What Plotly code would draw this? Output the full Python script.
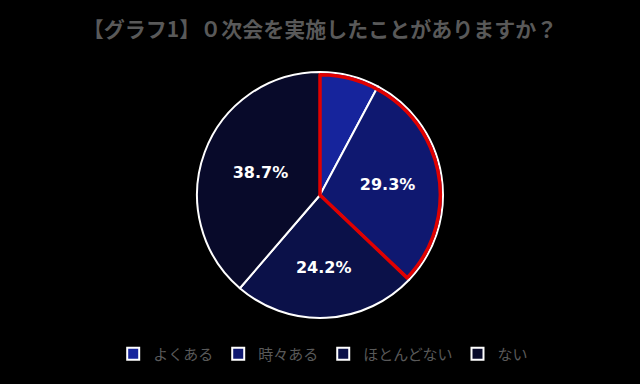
import plotly.graph_objects as go

categories = ["よくある", "時々ある", "ほとんどない", "ない"]
values = [7.8, 29.3, 24.2, 38.7]
labels_text = ["", "29.3%", "24.2%", "38.7%"]
colors = ["#16249c", "#0f1870", "#0b1149", "#080a2a"]

highlight_values = [values[0] + values[1], values[2] + values[3]]

fig = go.Figure()
fig.add_trace(go.Pie(
    labels=categories, values=values, sort=False, direction="clockwise", rotation=0,
    text=labels_text, textinfo="text", textposition="inside",
    insidetextfont=dict(color="white", size=16, family="DejaVu Sans", weight="bold"),
    marker=dict(colors=colors, line=dict(color="white", width=2)),
    domain=dict(x=[0, 1], y=[0.172, 0.8125]),
    hoverinfo="skip", insidetextorientation="horizontal",
))
fig.add_trace(go.Pie(
    labels=["a", "b"], values=highlight_values, sort=False, direction="clockwise", rotation=0,
    textinfo="none", showlegend=False, hoverinfo="skip",
    marker=dict(colors=["rgba(0,0,0,0)", "rgba(0,0,0,0)"],
                line=dict(color=["#e00000", "rgba(0,0,0,0)"], width=3.5)),
    domain=dict(x=[0.0055, 0.9945], y=[0.179, 0.8055]),
))
fig.update_layout(
    width=640, height=384, paper_bgcolor="black", plot_bgcolor="black",
    margin=dict(l=0, r=0, t=0, b=0),
    title=dict(text="<b>【グラフ1】０次会を実施したことがありますか？</b>", x=0.5, y=0.922, xanchor="center", yanchor="middle",
               font=dict(size=21, color="#595959", family="Noto Sans CJK JP")),
    legend=dict(orientation="h", x=0.505, xanchor="center", y=0.078, yanchor="middle",
                font=dict(size=15, color="#595959", family="Noto Sans CJK JP"),
                itemwidth=30, traceorder="normal"),
)
fig.write_html("out.html", config={"displayModeBar": False},
               post_script="document.body.style.margin='0';document.body.style.background='black';")
